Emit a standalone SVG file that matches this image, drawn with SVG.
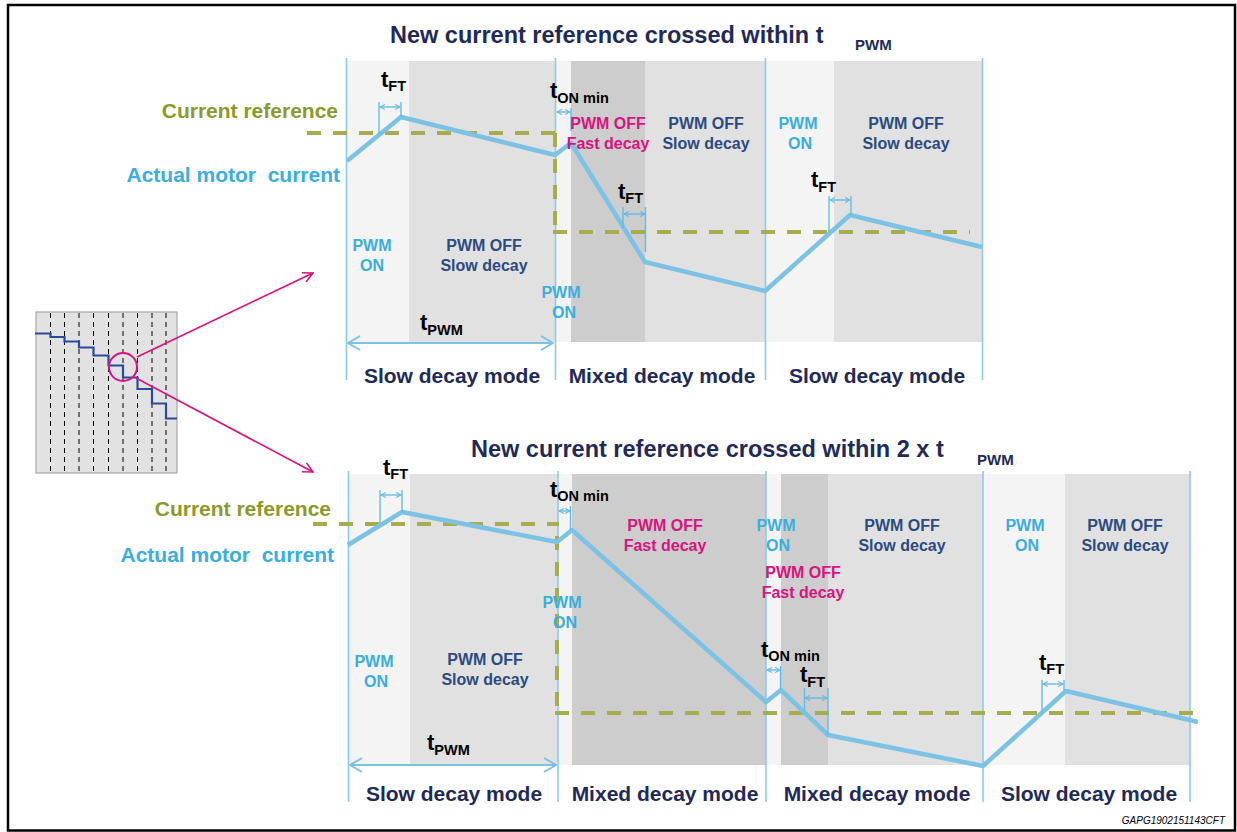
<svg xmlns="http://www.w3.org/2000/svg" width="1237" height="832" viewBox="0 0 1237 832">
<style>
text{font-family:"Liberation Sans",Arial,sans-serif;font-weight:bold;}
.title{font-size:23.5px;fill:#1f2a5a;}
.tsub{font-size:15px;fill:#1f2a5a;}
.mode{font-size:21px;fill:#1f2a5a;text-anchor:middle;}
.lbl{font-size:16px;text-anchor:middle;}
.on{fill:#3aaee0;}
.slow{fill:#2b4b80;}
.fast{fill:#d9137f;}
.ref{font-size:21px;fill:#8b9a2a;text-anchor:end;}
.act{font-size:21px;fill:#3aaee0;text-anchor:end;white-space:pre;}
.t{font-size:22px;fill:#000;}
.sub{font-size:14.5px;fill:#000;}
.bgon{fill:#f4f4f4;}
.bgslow{fill:#e1e1e1;}
.bgfast{fill:#cdcdcd;}
.vl{stroke:#8ccbeb;stroke-width:1.6;fill:none;}
.wave{stroke:#7cc2e5;stroke-width:4.5;fill:none;stroke-linejoin:round;}
.cref{stroke:#a6ad4f;stroke-width:4;fill:none;stroke-dasharray:14 12;}
.tick{stroke:#5fb8e6;stroke-width:1.3;fill:none;}
.sarr{stroke:#5fb8e6;stroke-width:1.3;fill:none;marker-start:url(#sa);marker-end:url(#sa);}
.larr{stroke:#7cc2e5;stroke-width:2;fill:none;marker-start:url(#la);marker-end:url(#la);}
.mag{stroke:#d9137f;stroke-width:1.6;fill:none;}
</style>
<defs>
<marker id="sa" viewBox="0 0 10 10" refX="9" refY="5" markerUnits="userSpaceOnUse" markerWidth="6" markerHeight="7" orient="auto-start-reverse">
<path d="M1,1 L9,5 L1,9" fill="none" stroke="#5fb8e6" stroke-width="1.8"/>
</marker>
<marker id="la" viewBox="0 0 14 16" refX="13" refY="8" markerUnits="userSpaceOnUse" markerWidth="14" markerHeight="16" orient="auto-start-reverse">
<path d="M1,1 L13,8 L1,15" fill="none" stroke="#7cc2e5" stroke-width="2"/>
</marker>
<marker id="ma" viewBox="0 0 12 12" refX="11" refY="6" markerUnits="userSpaceOnUse" markerWidth="12" markerHeight="12" orient="auto">
<path d="M1,1 L11,6 L1,11" fill="none" stroke="#d9137f" stroke-width="1.6"/>
</marker>
</defs>
<rect x="0" y="0" width="1237" height="832" fill="#fff"/>
<rect x="8" y="5" width="1227" height="825.5" fill="none" stroke="#000" stroke-width="2.5"/>

<g id="inset">
<rect x="36" y="312" width="141" height="161" fill="#e2e2e2" stroke="#9a9a9a" stroke-width="1"/>
<g stroke="#000" stroke-width="1" stroke-dasharray="5 4">
<line x1="50.5" y1="313" x2="50.5" y2="472"/>
<line x1="64.5" y1="313" x2="64.5" y2="472"/>
<line x1="79" y1="313" x2="79" y2="472"/>
<line x1="93.5" y1="313" x2="93.5" y2="472"/>
<line x1="108.5" y1="313" x2="108.5" y2="472"/>
<line x1="123" y1="313" x2="123" y2="472"/>
<line x1="137.5" y1="313" x2="137.5" y2="472"/>
<line x1="152" y1="313" x2="152" y2="472"/>
<line x1="166" y1="313" x2="166" y2="472"/>
</g>
<polyline points="35,333.5 50.5,333.5 50.5,337 64.5,337 64.5,341.5 79,341.5 79,347.5 93.5,347.5 93.5,355.5 108.5,355.5 108.5,365.5 123,365.5 123,377.5 137.5,377.5 137.5,389 152,389 152,403.5 166,403.5 166,418.5 177,418.5" fill="none" stroke="#2b4a9b" stroke-width="2.2"/>
<circle cx="123" cy="367" r="14" fill="none" stroke="#d9137f" stroke-width="2"/>
</g>

<g id="connectors">
<line class="mag" x1="137" y1="357" x2="313" y2="273" marker-end="url(#ma)"/>
<line class="mag" x1="136" y1="378" x2="313" y2="472" marker-end="url(#ma)"/>
</g>

<g id="panel-top">
<rect class="bgon" x="346" y="61" width="63" height="281"/>
<rect class="bgslow" x="409" y="61" width="146" height="281"/>
<rect class="bgon" x="555" y="61" width="16" height="281"/>
<rect class="bgfast" x="571" y="61" width="74" height="281"/>
<rect class="bgslow" x="645" y="61" width="120" height="281"/>
<rect class="bgon" x="765" y="61" width="69" height="281"/>
<rect class="bgslow" x="834" y="61" width="148" height="281"/>
<line class="vl" x1="346.5" y1="58" x2="346.5" y2="380"/>
<line class="vl" x1="555.5" y1="58" x2="555.5" y2="380"/>
<line class="vl" x1="765.5" y1="58" x2="765.5" y2="380"/>
<line class="vl" x1="982.5" y1="58" x2="982.5" y2="380"/>
<line class="cref" x1="307" y1="133" x2="557" y2="133"/>
<line class="cref" x1="555" y1="133" x2="555" y2="232"/>
<line class="cref" x1="553" y1="232" x2="970" y2="232"/>
<polyline class="wave" points="347,161 401,117 555,155 571,143 645,262 765,291 850,215 982,247"/>
<line class="tick" x1="379" y1="102" x2="379" y2="135"/>
<line class="tick" x1="401" y1="102" x2="401" y2="117"/>
<line class="sarr" x1="380" y1="107" x2="400" y2="107"/>
<line class="tick" x1="571" y1="108" x2="571" y2="131"/>
<line class="sarr" x1="557" y1="112" x2="570" y2="112"/>
<line class="tick" x1="623" y1="207" x2="623" y2="228"/>
<line class="tick" x1="645.5" y1="207" x2="645.5" y2="252"/>
<line class="sarr" x1="624" y1="214" x2="645" y2="214"/>
<line class="tick" x1="829" y1="196" x2="829" y2="232"/>
<line class="tick" x1="851" y1="196" x2="851" y2="216"/>
<line class="sarr" x1="830" y1="200" x2="850" y2="200"/>
<line class="larr" x1="348" y1="343" x2="553" y2="343"/>
<text class="title" x="390" y="43">New current reference crossed within t</text>
<text class="tsub" x="855" y="50">PWM</text>
<text class="ref" x="338" y="118">Current reference</text>
<text class="act" x="340" y="182">Actual motor  current</text>
<text class="t" x="381" y="87">t<tspan class="sub" y="91">FT</tspan></text>
<text class="t" x="550" y="98">t<tspan class="sub" y="103">ON min</tspan></text>
<text class="t" x="618" y="199">t<tspan class="sub" y="203">FT</tspan></text>
<text class="t" x="811" y="187">t<tspan class="sub" y="192">FT</tspan></text>
<text class="t" x="420" y="330">t<tspan class="sub" y="335">PWM</tspan></text>
<text class="lbl on" x="372" y="251">PWM</text>
<text class="lbl on" x="372" y="271">ON</text>
<text class="lbl slow" x="484" y="251">PWM OFF</text>
<text class="lbl slow" x="484" y="271">Slow decay</text>
<text class="lbl on" x="561" y="298">PWM</text>
<text class="lbl on" x="564" y="318">ON</text>
<text class="lbl fast" x="608" y="129">PWM OFF</text>
<text class="lbl fast" x="608" y="149">Fast decay</text>
<text class="lbl slow" x="706" y="129">PWM OFF</text>
<text class="lbl slow" x="706" y="149">Slow decay</text>
<text class="lbl on" x="798" y="129">PWM</text>
<text class="lbl on" x="800" y="149">ON</text>
<text class="lbl slow" x="906" y="129">PWM OFF</text>
<text class="lbl slow" x="906" y="149">Slow decay</text>
<text class="mode" x="452" y="383">Slow decay mode</text>
<text class="mode" x="662" y="383">Mixed decay mode</text>
<text class="mode" x="877" y="383">Slow decay mode</text>
</g>

<g id="panel-bottom">
<rect class="bgon" x="348" y="474" width="62" height="291"/>
<rect class="bgslow" x="410" y="474" width="148" height="291"/>
<rect class="bgon" x="558" y="474" width="14" height="291"/>
<rect class="bgfast" x="572" y="474" width="194" height="291"/>
<rect class="bgon" x="766" y="474" width="15" height="291"/>
<rect class="bgfast" x="781" y="474" width="47" height="291"/>
<rect class="bgslow" x="828" y="474" width="155" height="291"/>
<rect class="bgon" x="983" y="474" width="82" height="291"/>
<rect class="bgslow" x="1065" y="474" width="125" height="291"/>
<line class="vl" x1="348.5" y1="471" x2="348.5" y2="802"/>
<line class="vl" x1="558" y1="471" x2="558" y2="802"/>
<line class="vl" x1="766" y1="471" x2="766" y2="802"/>
<line class="vl" x1="983" y1="471" x2="983" y2="802"/>
<line class="vl" x1="1190" y1="471" x2="1190" y2="802"/>
<line class="cref" x1="313" y1="524" x2="559" y2="524"/>
<line class="cref" x1="557" y1="536" x2="557" y2="713"/>
<line class="cref" x1="555" y1="713" x2="1205" y2="713"/>
<polyline class="wave" points="348,545 402,512 557,542 572,530 766,702 781,690 828,735 983,766 1066,691 1198,722"/>
<line class="tick" x1="380" y1="490" x2="380" y2="523"/>
<line class="tick" x1="402" y1="490" x2="402" y2="512"/>
<line class="sarr" x1="381" y1="495" x2="401" y2="495"/>
<line class="tick" x1="570.5" y1="506" x2="570.5" y2="530"/>
<line class="sarr" x1="559" y1="511" x2="570" y2="511"/>
<line class="tick" x1="780.5" y1="666" x2="780.5" y2="689"/>
<line class="sarr" x1="767" y1="670" x2="780" y2="670"/>
<line class="tick" x1="804.5" y1="688" x2="804.5" y2="711"/>
<line class="tick" x1="828" y1="688" x2="828" y2="735"/>
<line class="sarr" x1="805" y1="698" x2="827" y2="698"/>
<line class="tick" x1="1042" y1="680" x2="1042" y2="713"/>
<line class="tick" x1="1064" y1="680" x2="1064" y2="691"/>
<line class="sarr" x1="1043" y1="684" x2="1063" y2="684"/>
<line class="larr" x1="350" y1="765" x2="556" y2="765"/>
<text class="title" x="471" y="457">New current reference crossed within 2 x t</text>
<text class="tsub" x="977" y="465">PWM</text>
<text class="ref" x="331" y="516">Current reference</text>
<text class="act" x="334" y="562">Actual motor  current</text>
<text class="t" x="383" y="475">t<tspan class="sub" y="479">FT</tspan></text>
<text class="t" x="550" y="497">t<tspan class="sub" y="501">ON min</tspan></text>
<text class="t" x="761" y="657">t<tspan class="sub" y="661">ON min</tspan></text>
<text class="t" x="800" y="682">t<tspan class="sub" y="687">FT</tspan></text>
<text class="t" x="1039" y="670">t<tspan class="sub" y="674">FT</tspan></text>
<text class="t" x="427" y="750">t<tspan class="sub" y="755">PWM</tspan></text>
<text class="lbl on" x="374" y="667">PWM</text>
<text class="lbl on" x="376" y="687">ON</text>
<text class="lbl slow" x="485" y="665">PWM OFF</text>
<text class="lbl slow" x="485" y="685">Slow decay</text>
<text class="lbl on" x="562" y="608">PWM</text>
<text class="lbl on" x="565" y="628">ON</text>
<text class="lbl fast" x="665" y="531">PWM OFF</text>
<text class="lbl fast" x="665" y="551">Fast decay</text>
<text class="lbl on" x="776" y="531">PWM</text>
<text class="lbl on" x="778" y="551">ON</text>
<text class="lbl fast" x="803" y="578">PWM OFF</text>
<text class="lbl fast" x="803" y="598">Fast decay</text>
<text class="lbl slow" x="902" y="531">PWM OFF</text>
<text class="lbl slow" x="902" y="551">Slow decay</text>
<text class="lbl on" x="1025" y="531">PWM</text>
<text class="lbl on" x="1027" y="551">ON</text>
<text class="lbl slow" x="1125" y="531">PWM OFF</text>
<text class="lbl slow" x="1125" y="551">Slow decay</text>
<text class="mode" x="454" y="801">Slow decay mode</text>
<text class="mode" x="665" y="801">Mixed decay mode</text>
<text class="mode" x="877" y="801">Mixed decay mode</text>
<text class="mode" x="1089" y="801">Slow decay mode</text>
</g>

<text x="1225" y="824" text-anchor="end" style="font-weight:normal;font-style:italic;font-size:10px;fill:#000">GAPG1902151143CFT</text>
</svg>
